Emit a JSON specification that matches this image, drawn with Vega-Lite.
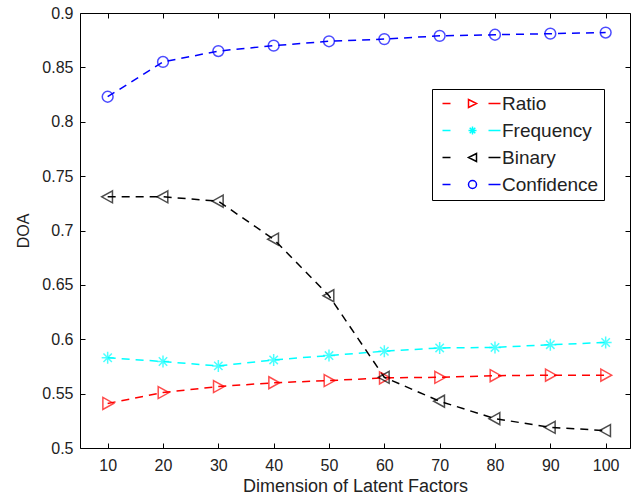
{
  "$schema": "https://vega.github.io/schema/vega-lite/v6.json",
  "width": 550,
  "height": 435,
  "autosize": "none",
  "padding": {"left": 80, "top": 13, "right": 1, "bottom": 48},
  "background": "white",
  "config": {
    "view": {"stroke": null},
    "axis": {
      "domainColor": "black",
      "domainWidth": 1,
      "tickColor": "black",
      "tickSize": -5,
      "tickWidth": 1,
      "grid": false,
      "labelFont": "Liberation Sans",
      "labelFontSize": 16,
      "labelColor": "#222",
      "titleFont": "Liberation Sans",
      "titleFontWeight": "normal",
      "titleColor": "#222"
    },
    "legend": {
      "labelFont": "Liberation Sans",
      "labelFontSize": 19,
      "labelColor": "#222"
    }
  },
  "data": {
    "values": [
      {"k": 10, "series": "Ratio", "v": 0.541},
      {"k": 20, "series": "Ratio", "v": 0.551},
      {"k": 30, "series": "Ratio", "v": 0.5565},
      {"k": 40, "series": "Ratio", "v": 0.560},
      {"k": 50, "series": "Ratio", "v": 0.562},
      {"k": 60, "series": "Ratio", "v": 0.5645},
      {"k": 70, "series": "Ratio", "v": 0.565},
      {"k": 80, "series": "Ratio", "v": 0.5665},
      {"k": 90, "series": "Ratio", "v": 0.567},
      {"k": 100, "series": "Ratio", "v": 0.567},
      {"k": 10, "series": "Frequency", "v": 0.583},
      {"k": 20, "series": "Frequency", "v": 0.5795},
      {"k": 30, "series": "Frequency", "v": 0.5755},
      {"k": 40, "series": "Frequency", "v": 0.581},
      {"k": 50, "series": "Frequency", "v": 0.585},
      {"k": 60, "series": "Frequency", "v": 0.589},
      {"k": 70, "series": "Frequency", "v": 0.592},
      {"k": 80, "series": "Frequency", "v": 0.5925},
      {"k": 90, "series": "Frequency", "v": 0.595},
      {"k": 100, "series": "Frequency", "v": 0.597},
      {"k": 10, "series": "Binary", "v": 0.731},
      {"k": 20, "series": "Binary", "v": 0.731},
      {"k": 30, "series": "Binary", "v": 0.727},
      {"k": 40, "series": "Binary", "v": 0.692},
      {"k": 50, "series": "Binary", "v": 0.640},
      {"k": 60, "series": "Binary", "v": 0.565},
      {"k": 70, "series": "Binary", "v": 0.543},
      {"k": 80, "series": "Binary", "v": 0.527},
      {"k": 90, "series": "Binary", "v": 0.519},
      {"k": 100, "series": "Binary", "v": 0.516},
      {"k": 10, "series": "Confidence", "v": 0.823},
      {"k": 20, "series": "Confidence", "v": 0.855},
      {"k": 30, "series": "Confidence", "v": 0.865},
      {"k": 40, "series": "Confidence", "v": 0.870},
      {"k": 50, "series": "Confidence", "v": 0.874},
      {"k": 60, "series": "Confidence", "v": 0.876},
      {"k": 70, "series": "Confidence", "v": 0.879},
      {"k": 80, "series": "Confidence", "v": 0.880},
      {"k": 90, "series": "Confidence", "v": 0.881},
      {"k": 100, "series": "Confidence", "v": 0.882}
    ]
  },
  "resolve": {"scale": {"color": "independent", "shape": "independent"}},
  "layer": [
    {
      "mark": {"type": "line", "strokeDash": [8, 6], "strokeWidth": 1.5},
      "encoding": {
        "x": {
          "field": "k", "type": "quantitative",
          "scale": {"domain": [5, 104.4], "nice": false, "zero": false},
          "axis": {
            "orient": "bottom",
            "values": [10, 20, 30, 40, 50, 60, 70, 80, 90, 100],
            "labelPadding": 14,
            "title": "Dimension of Latent Factors",
            "titleFontSize": 18,
            "titlePadding": 4
          }
        },
        "y": {
          "field": "v", "type": "quantitative",
          "scale": {"domain": [0.5, 0.9], "nice": false, "zero": false},
          "axis": {
            "orient": "left",
            "values": [0.5, 0.55, 0.6, 0.65, 0.7, 0.75, 0.8, 0.85, 0.9],
            "format": ".2~f",
            "labelPadding": 12,
            "title": "DOA",
            "titleFontSize": 16,
            "titlePadding": 10
          }
        },
        "color": {
          "field": "series", "type": "nominal",
          "scale": {"domain": ["Ratio", "Frequency", "Binary", "Confidence"], "range": ["#ff0000", "#00ffff", "#000000", "#0000ff"]},
          "legend": null
        },
        "detail": {"field": "series", "type": "nominal"}
      }
    },
    {
      "mark": {"type": "point", "filled": false, "strokeWidth": 1.5, "size": 144},
      "encoding": {
        "x": {
          "field": "k", "type": "quantitative",
          "axis": {"orient": "top", "values": [10, 20, 30, 40, 50, 60, 70, 80, 90, 100], "labels": false, "title": null}
        },
        "y": {
          "field": "v", "type": "quantitative",
          "axis": {"orient": "right", "values": [0.5, 0.55, 0.6, 0.65, 0.7, 0.75, 0.8, 0.85, 0.9], "labels": false, "title": null}
        },
        "color": {
          "field": "series", "type": "nominal",
          "scale": {"domain": ["Ratio", "Frequency", "Binary", "Confidence"], "range": ["#ff0000", "#00ffff", "#000000", "#0000ff"]},
          "legend": null
        },
        "shape": {
          "field": "series", "type": "nominal",
          "scale": {
            "domain": ["Ratio", "Frequency", "Binary", "Confidence"],
            "range": [
              "M-0.8,-1L1,0L-0.8,1Z",
              "M-1,0H1M0,-1V1M-0.7,-0.7L0.7,0.7M-0.7,0.7L0.7,-0.7",
              "M0.8,-1L-1,0L0.8,1Z",
              "M0.9,0A0.9,0.9,0,1,1,-0.9,0A0.9,0.9,0,1,1,0.9,0Z"
            ]
          },
          "legend": null
        }
      }
    },
    {
      "mark": {"type": "point", "filled": false, "strokeWidth": 1.5, "size": 64, "opacity": 0},
      "encoding": {
        "x": {"field": "k", "type": "quantitative", "axis": null},
        "y": {"field": "v", "type": "quantitative", "axis": null},
        "color": {
          "field": "series", "type": "nominal",
          "scale": {"domain": ["Ratio", "Frequency", "Binary", "Confidence"], "range": ["#ff0000", "#00ffff", "#000000", "#0000ff"]},
          "legend": {
            "title": null,
            "orient": "none",
            "legendX": 352,
            "legendY": 76,
            "padding": 5,
            "strokeColor": "black",
            "fillColor": "white",
            "symbolSize": 64,
            "symbolStrokeWidth": 1.5,
            "symbolOpacity": 1,
            "symbolOffset": 26,
            "labelOffset": 20,
            "rowPadding": 7
          }
        },
        "shape": {
          "field": "series", "type": "nominal",
          "scale": {
            "domain": ["Ratio", "Frequency", "Binary", "Confidence"],
            "range": [
              "M-7.5,0H-5.5M4,0H7M-1,-1L1,0L-1,1Z",
              "M-7.5,0H-5.5M4,0H7M-1,0H1M0,-1V1M-0.7,-0.7L0.7,0.7M-0.7,0.7L0.7,-0.7",
              "M-7.5,0H-5.5M4,0H7M1,-1L-1,0L1,1Z",
              "M-7.5,0H-5.5M4,0H7M1,0A1,1,0,1,1,-1,0A1,1,0,1,1,1,0Z"
            ]
          },
          "legend": {
            "title": null,
            "orient": "none",
            "legendX": 352,
            "legendY": 76,
            "padding": 5,
            "strokeColor": "black",
            "fillColor": "white",
            "symbolSize": 64,
            "symbolStrokeWidth": 1.5,
            "symbolOpacity": 1,
            "symbolOffset": 26,
            "labelOffset": 20,
            "rowPadding": 7
          }
        }
      }
    }
  ]
}
